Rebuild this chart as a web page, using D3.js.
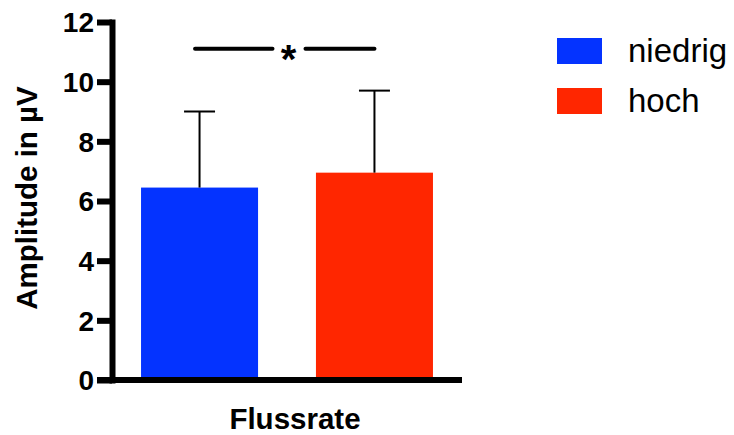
<!DOCTYPE html>
<html>
<head>
<meta charset="utf-8">
<script src="https://cdn.jsdelivr.net/npm/d3@7"></script>
<style>
  html, body { margin: 0; padding: 0; background: #fff; }
  svg { display: block; font-family: "Liberation Sans", Arial, Helvetica, sans-serif; }
</style>
</head>
<body>
<svg id="chart" width="734" height="435"></svg>
<script>
// Mean amplitude per flow-rate group, with SD error bars
const groups = ["niedrig", "hoch"];
const means = [6.45, 6.95];
const errors = [2.55, 2.75];
const colors = ["#0433ff", "#ff2600"];
const yTicks = [0, 2, 4, 6, 8, 10, 12];
const yLabel = "Amplitude in µV";
const xLabel = "Flussrate";
const sigMark = "*";
const sigLevel = 11.1;

const svg = d3.select("#chart");

const y = d3.scaleLinear().domain([0, 12]).range([380, 22]);
const x = d3.scaleBand()
  .domain(groups)
  .range([112, 462])
  .paddingInner(0.331)
  .paddingOuter(0.166);

// Bars
svg.append("g").selectAll("rect")
  .data(groups)
  .join("rect")
  .attr("x", d => x(d))
  .attr("y", (d, i) => y(means[i]))
  .attr("width", x.bandwidth())
  .attr("height", (d, i) => y(0) - y(means[i]))
  .attr("fill", (d, i) => colors[i]);

// Upper error bars
const capHalf = 15.5;
const eb = svg.append("g").attr("stroke", "#000").attr("stroke-width", 2);
groups.forEach((g, i) => {
  const cx = x(g) + x.bandwidth() / 2;
  eb.append("line")
    .attr("x1", cx).attr("x2", cx)
    .attr("y1", y(means[i])).attr("y2", y(means[i] + errors[i]));
  eb.append("line")
    .attr("x1", cx - capHalf).attr("x2", cx + capHalf)
    .attr("y1", y(means[i] + errors[i])).attr("y2", y(means[i] + errors[i]));
});

// Y axis
const yAxis = svg.append("g")
  .attr("transform", "translate(112,0)")
  .call(d3.axisLeft(y).tickValues(yTicks).tickSize(15).tickSizeOuter(0).tickPadding(3));
yAxis.select(".domain")
  .attr("stroke", "#000").attr("stroke-width", 6).attr("stroke-linecap", "square");
yAxis.selectAll(".tick line").attr("stroke", "#000").attr("stroke-width", 6);
yAxis.selectAll(".tick text")
  .attr("fill", "#000")
  .style("font-size", "28px")
  .style("font-weight", "bold")
  .attr("dy", "0.35em");

// X axis baseline
svg.append("line")
  .attr("x1", 97).attr("x2", 462)
  .attr("y1", y(0)).attr("y2", y(0))
  .attr("stroke", "#000").attr("stroke-width", 6);

// Axis titles
svg.append("text")
  .attr("transform", "translate(37,198) rotate(-90)")
  .attr("text-anchor", "middle")
  .style("font-size", "29.5px")
  .style("font-weight", "bold")
  .text(yLabel);

svg.append("text")
  .attr("x", 295).attr("y", 429)
  .attr("text-anchor", "middle")
  .style("font-size", "29.5px")
  .style("font-weight", "bold")
  .text(xLabel);

// Significance bracket
const sx1 = x(groups[0]) + x.bandwidth() / 2 - 4.5;
const sx2 = x(groups[1]) + x.bandwidth() / 2;
const sMid = 288.5;
const sig = svg.append("g")
  .attr("stroke", "#000").attr("stroke-width", 4).attr("stroke-linecap", "round");
sig.append("line").attr("x1", sx1).attr("x2", sMid - 16).attr("y1", y(sigLevel)).attr("y2", y(sigLevel));
sig.append("line").attr("x1", sMid + 17).attr("x2", sx2).attr("y1", y(sigLevel)).attr("y2", y(sigLevel));
svg.append("text")
  .attr("x", sMid).attr("y", 73)
  .attr("text-anchor", "middle")
  .style("font-size", "40px")
  .style("font-weight", "bold")
  .text(sigMark);

// Legend
const legend = svg.append("g").attr("transform", "translate(557,38)");
groups.forEach((g, i) => {
  legend.append("rect")
    .attr("x", 0).attr("y", i * 50)
    .attr("width", 45).attr("height", 26)
    .attr("fill", colors[i]);
  legend.append("text")
    .attr("x", 71).attr("y", i * 50 + 24)
    .style("font-size", "33px")
    .text(g);
});
</script>
</body>
</html>
